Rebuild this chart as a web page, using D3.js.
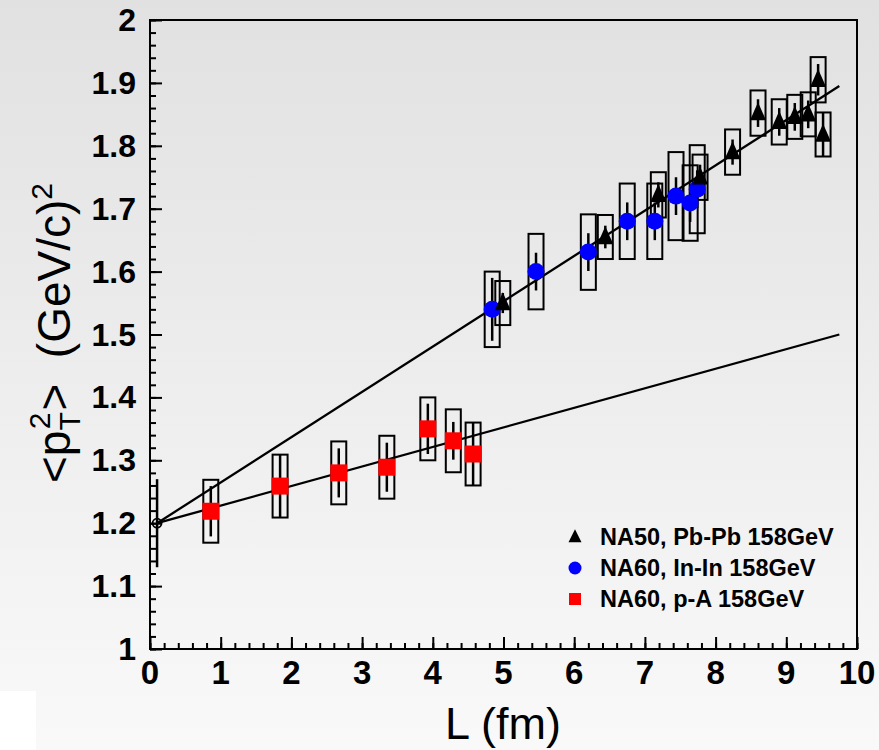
<!DOCTYPE html>
<html><head><meta charset="utf-8">
<script src="https://cdn.jsdelivr.net/npm/d3@7/dist/d3.min.js"></script>
<style>html,body{margin:0;padding:0;background:#fff;}svg{display:block;}</style>
</head><body>
<script>
// ---- data ----
// [L (fm), <pT^2>, stat err, syst err]
const na50PbPb = [
  [4.99, 1.550, 0.016, 0.035],
  [6.44, 1.655, 0.018, 0.035],
  [7.19, 1.722, 0.020, 0.036],
  [7.78, 1.750, 0.020, 0.036],
  [8.24, 1.790, 0.020, 0.036],
  [8.60, 1.852, 0.022, 0.036],
  [8.90, 1.838, 0.022, 0.036],
  [9.12, 1.846, 0.022, 0.035],
  [9.31, 1.850, 0.022, 0.035],
  [9.45, 1.905, 0.025, 0.036],
  [9.52, 1.818, 0.035, 0.035]
];
const na60InIn = [
  [4.84, 1.540, 0.050, 0.060],
  [5.46, 1.600, 0.030, 0.060],
  [6.20, 1.631, 0.030, 0.060],
  [6.75, 1.680, 0.030, 0.060],
  [7.14, 1.680, 0.030, 0.060],
  [7.44, 1.720, 0.030, 0.070],
  [7.64, 1.709, 0.030, 0.060],
  [7.74, 1.731, 0.030, 0.070]
];
const na60pA = [
  [0.86, 1.219, 0.040, 0.050],
  [1.84, 1.259, 0.050, 0.050],
  [2.67, 1.280, 0.039, 0.050],
  [3.35, 1.289, 0.039, 0.050],
  [3.93, 1.350, 0.040, 0.050],
  [4.29, 1.331, 0.030, 0.050],
  [4.57, 1.310, 0.050, 0.050]
];
const ppPoint = [0.1, 1.2, 0.07];
const fitLines = [
  [[0.1, 1.2], [9.75, 1.895]],
  [[0.1, 1.2], [9.75, 1.500]]
];
const xTicks = [0,1,2,3,4,5,6,7,8,9,10];
const yTicks = [1,1.1,1.2,1.3,1.4,1.5,1.6,1.7,1.8,1.9,2];
const legendLabels = ["NA50, Pb-Pb 158GeV", "NA60, In-In 158GeV", "NA60, p-A 158GeV"];

// ---- layout ----
const W = 879, H = 750;
const pL = 150, pR = 857, pT = 20, pB = 649;
const svg = d3.select("body").append("svg").attr("width", W).attr("height", H);
const defs = svg.append("defs");
const grad = defs.append("linearGradient").attr("id","bg").attr("x1",0).attr("y1",0).attr("x2",0).attr("y2",1);
grad.append("stop").attr("offset","0%").attr("stop-color","#e1e1e1");
grad.append("stop").attr("offset","100%").attr("stop-color","#f9f9f9");
svg.append("rect").attr("width",W).attr("height",H).attr("fill","url(#bg)");
svg.append("rect").attr("x",0).attr("y",691).attr("width",36).attr("height",59).attr("fill","#ffffff");

const x = d3.scaleLinear().domain([0,10]).range([pL,pR]);
const y = d3.scaleLinear().domain([1,2]).range([pB,pT]);

// frame
svg.append("rect").attr("x",pL).attr("y",pT).attr("width",pR-pL).attr("height",pB-pT)
  .attr("fill","none").attr("stroke","#000").attr("stroke-width",2);

// axes (ticks inside)
const xMinor = d3.range(0,10.001,0.2);
const yMinor = d3.range(1,2.001,0.02);
const gx = svg.append("g").attr("transform",`translate(0,${pB})`);
gx.call(d3.axisTop(x).tickValues(xMinor).tickSize(6).tickFormat(""));
gx.call(g=>g.select(".domain").remove());
const gx2 = svg.append("g").attr("transform",`translate(0,${pB})`);
gx2.call(d3.axisTop(x).tickValues(xTicks).tickSize(12).tickFormat(""));
gx2.call(g=>g.select(".domain").remove());

const gy = svg.append("g").attr("transform",`translate(${pL},0)`);
gy.call(d3.axisRight(y).tickValues(yMinor).tickSize(6).tickFormat(""));
gy.call(g=>g.select(".domain").remove());
const gy2 = svg.append("g").attr("transform",`translate(${pL},0)`);
gy2.call(d3.axisRight(y).tickValues(yTicks).tickSize(12).tickFormat(""));
gy2.call(g=>g.select(".domain").remove());
svg.selectAll("g .tick line").attr("stroke","#000").attr("stroke-width",2);

// tick labels
const fam = "'Liberation Sans', Arial, Helvetica, sans-serif";
svg.append("g").selectAll("text").data(xTicks).join("text")
  .attr("x",d=>x(d)).attr("y",684).attr("text-anchor","middle")
  .attr("font-family",fam).attr("font-weight","bold").attr("font-size",33)
  .text(d=>d);
svg.append("g").selectAll("text").data(yTicks).join("text")
  .attr("x",136).attr("y",d=>y(d)+11).attr("text-anchor","end")
  .attr("font-family",fam).attr("font-weight","bold").attr("font-size",32)
  .text(d=>String(+d.toFixed(1)));

// axis titles
svg.append("text").attr("x",503).attr("y",739).attr("text-anchor","middle")
  .attr("font-family",fam).attr("font-size",45).text("L (fm)");
const yt = svg.append("text").attr("transform","translate(70,333) rotate(-90)")
  .attr("text-anchor","middle").attr("font-family",fam).attr("font-size",46);
yt.append("tspan").text("<p");
yt.append("tspan").attr("font-size",30).attr("dy",10).text("T");
yt.append("tspan").attr("font-size",30).attr("dx",-17).attr("dy",-30).text("2");
yt.append("tspan").attr("dx",2).attr("dy",20).text(">");
yt.append("tspan").text("\u00a0\u00a0(GeV/c)");
yt.append("tspan").attr("font-size",30).attr("dy",-18).text("2");

// systematic boxes
const boxHalf = 7.5;
const plotG = svg.append("g");
function boxes(data){
  plotG.append("g").selectAll("rect").data(data).join("rect")
    .attr("x",d=>x(d[0])-boxHalf).attr("width",boxHalf*2)
    .attr("y",d=>y(d[1]+d[3])).attr("height",d=>y(d[1]-d[3])-y(d[1]+d[3]))
    .attr("fill","none").attr("stroke","#000").attr("stroke-width",2);
}
boxes(na60pA); boxes(na60InIn); boxes(na50PbPb);

// fit lines
const line = d3.line().x(d=>x(d[0])).y(d=>y(d[1]));
plotG.append("g").selectAll("path").data(fitLines).join("path")
  .attr("d",line).attr("fill","none").attr("stroke","#000").attr("stroke-width",2.3);

// stat error bars
function stats(data){
  plotG.append("g").selectAll("line").data(data).join("line")
    .attr("x1",d=>x(d[0])).attr("x2",d=>x(d[0]))
    .attr("y1",d=>y(d[1]+d[2])).attr("y2",d=>y(d[1]-d[2]))
    .attr("stroke","#000").attr("stroke-width",2.5);
}
stats(na60pA); stats(na60InIn); stats(na50PbPb);
plotG.append("line").attr("x1",x(ppPoint[0])).attr("x2",x(ppPoint[0]))
  .attr("y1",y(ppPoint[1]+ppPoint[2])).attr("y2",y(ppPoint[1]-ppPoint[2]))
  .attr("stroke","#000").attr("stroke-width",2.5);

// markers
const sq = 17, cr = 8.5, tw = 16, th = 18;
plotG.append("g").selectAll("rect").data(na60pA).join("rect")
  .attr("x",d=>x(d[0])-sq/2).attr("y",d=>y(d[1])-sq/2).attr("width",sq).attr("height",sq)
  .attr("fill","#ff0000");
plotG.append("g").selectAll("circle").data(na60InIn).join("circle")
  .attr("cx",d=>x(d[0])).attr("cy",d=>y(d[1])).attr("r",cr).attr("fill","#0000ff");
const tri = (cx,cy,w,h)=>`M${cx},${cy-h*0.6}L${cx+w/2},${cy+h*0.4}L${cx-w/2},${cy+h*0.4}Z`;
plotG.append("g").selectAll("path").data(na50PbPb).join("path")
  .attr("d",d=>tri(x(d[0]),y(d[1]),tw,th)).attr("fill","#000");
plotG.append("circle").attr("cx",x(ppPoint[0])).attr("cy",y(ppPoint[1])).attr("r",4.5)
  .attr("fill","none").attr("stroke","#000").attr("stroke-width",1.8);

// legend
const lg = svg.append("g");
const rows = [545, 576, 607];
lg.selectAll("text").data(legendLabels).join("text")
  .attr("x",600).attr("y",(d,i)=>rows[i]).attr("font-family",fam).attr("font-weight","bold")
  .attr("font-size",23.5).attr("fill","#000").text(d=>d);
lg.append("path").attr("d",tri(575,rows[0]-8,13,13)).attr("fill","#000");
lg.append("circle").attr("cx",575).attr("cy",rows[1]-8).attr("r",6.5).attr("fill","#0000ff");
lg.append("rect").attr("x",569).attr("y",rows[2]-14).attr("width",12).attr("height",12).attr("fill","#ff0000");
</script>
</body></html>
